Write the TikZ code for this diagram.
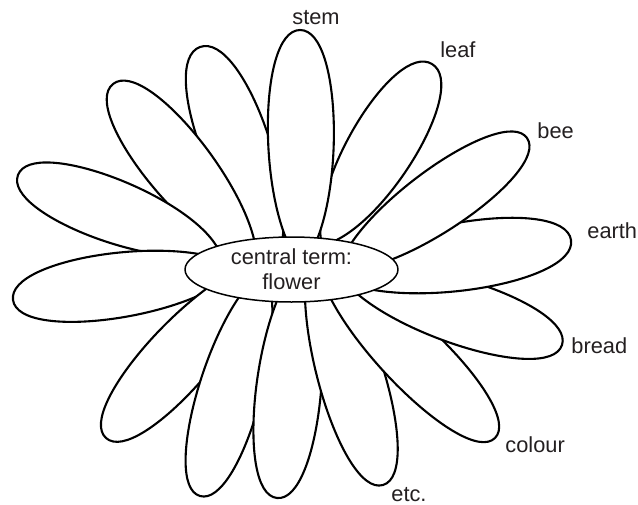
\documentclass[tikz,border=0pt]{standalone}
\usepackage{fontspec}
\setmainfont{Liberation Sans}
\usetikzlibrary{shapes.geometric}

\definecolor{ink}{HTML}{231F20}

% Petal: tip, angle, length, width.
\newcommand{\petal}[4]{%
  \begin{scope}[shift={#1}, rotate=#2]
    \draw[petal] (-#3,0) .. controls (-0.8*#3,0.667*#4) and (0,0.667*#4) .. (0,0)
      .. controls (0,-0.667*#4) and (-0.8*#3,-0.667*#4) .. (-#3,0) -- cycle;
  \end{scope}}

\begin{document}
\begin{tikzpicture}[x=0.5pt, y=-0.5pt, line join=round,
    every node/.style={font=\fontsize{10.9}{12.5}\selectfont, text=ink},
    petal/.style={line width=1.05pt, fill=white},
    hub/.style={draw, ellipse, line width=0.75pt, fill=white, inner sep=0pt,
      minimum width=106.5pt, minimum height=32.5pt, align=center},
    term/.style={anchor=base west, inner sep=0pt}]
  \useasboundingbox (0,0) rectangle (638,504);
  % Petals, back to front.
  \petal{(432,64)}{58.8}{212}{67}
  \petal{(200,47)}{110}{225}{68}
  \petal{(113,84)}{128.6}{230}{66}
  \petal{(18,175)}{159.3}{215}{63}
  \petal{(13,300)}{188}{228}{65}
  \petal{(106,438)}{228}{240}{65}
  \petal{(200,496)}{254}{235}{63}
  \petal{(277,498)}{263.9}{240}{65}
  \petal{(383,485)}{286.4}{250}{66}
  \petal{(495,438)}{315}{250}{64}
  \petal{(562,345)}{342}{235}{65}
  \petal{(571,240)}{8.6}{240}{68}
  \petal{(527,138)}{35}{230}{62}
  \petal{(300,30)}{90.5}{235}{66}
  % Central term.
  \node[hub] (flower) at (291.5,269.5) {central term:\\flower};
  % Terms round the flower.
  \node[term] (stem) at (292,24) {stem};
  \node[term] (leaf) at (440,57) {leaf};
  \node[term] (bee) at (537,138) {bee};
  \node[term] (earth) at (587,238) {earth};
  \node[term] (bread) at (571,353.5) {bread};
  \node[term] (colour) at (505,452) {colour};
  \node[term] (etc) at (391,501.5) {etc.};
\end{tikzpicture}
\end{document}
